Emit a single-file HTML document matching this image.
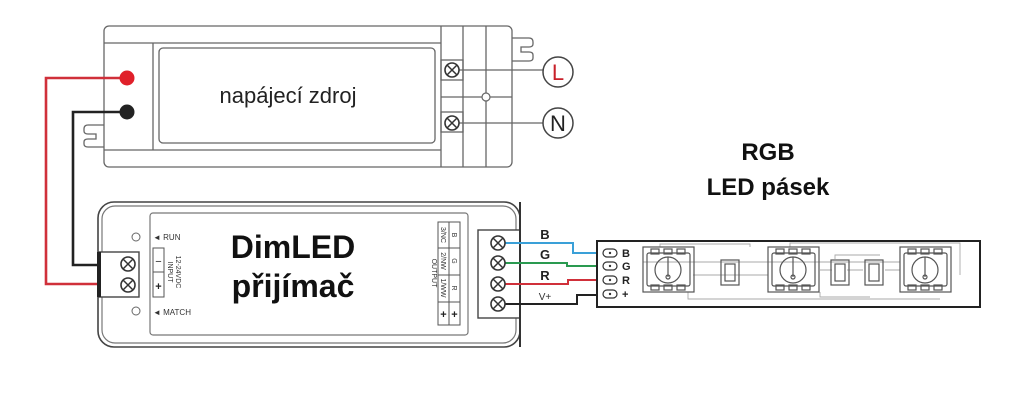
<!DOCTYPE html>
<html><head><meta charset="utf-8"><style>
html,body{margin:0;padding:0;background:#fff;width:1024px;height:406px;overflow:hidden}
svg{display:block}
text{font-family:"Liberation Sans",sans-serif}
</style></head><body>
<svg width="1024" height="406" viewBox="0 0 1024 406" xmlns="http://www.w3.org/2000/svg">
<defs>
<g id="scr"><circle r="7" fill="#fff" stroke="#333" stroke-width="1.6"/><path d="M-4.5,-4.5L4.5,4.5M4.5,-4.5L-4.5,4.5" stroke="#333" stroke-width="1.5"/></g>
<g id="led" fill="none" stroke="#555" stroke-width="1.2">
<rect x="0" y="0" width="51" height="45"/>
<rect x="4" y="6" width="43" height="33" rx="2"/>
<rect x="8" y="2" width="8" height="5"/><rect x="21" y="2" width="8" height="5"/><rect x="34" y="2" width="8" height="5"/>
<rect x="8" y="38" width="8" height="5"/><rect x="21" y="38" width="8" height="5"/><rect x="34" y="38" width="8" height="5"/>
<circle cx="25" cy="23" r="13"/><path d="M25,10V30"/><circle cx="25" cy="30" r="2"/>
</g>
<g id="res" fill="none" stroke="#555" stroke-width="1.2"><rect x="0" y="0" width="18" height="25"/><rect x="4" y="4" width="10" height="17"/></g>
</defs>

<!-- power supply -->
<g fill="none" stroke="#666" stroke-width="1.3">
<rect x="104" y="26" width="408" height="141" rx="5"/>
<path d="M104,43H441M104,150H441M153,43V150M441,26V167M463,26V167M486,26V167M441,97H512"/>
<rect x="159" y="48" width="276" height="95" rx="4"/>
<rect x="441" y="60" width="22" height="20"/><rect x="441" y="112" width="22" height="20"/>
<path d="M452,70H543M452,123H543"/>
<path d="M104,125H88q-4,0-4,4v2q0,3,4,3h8v5h-8q-4,0-4,3v2q0,3,4,3h16"/>
<path d="M512,38h17q4,0,4,4v2q0,3,-4,3h-8v5h8q4,0,4,3v3q0,3,-4,3h-17"/>
</g>
<circle cx="486" cy="97" r="4" fill="#fff" stroke="#666" stroke-width="1.2"/>
<use href="#scr" x="452" y="70"/><use href="#scr" x="452" y="123"/>
<circle cx="558" cy="72" r="15" fill="#fff" stroke="#444" stroke-width="1.5"/>
<text x="558" y="80" font-size="22" fill="#c8202a" text-anchor="middle">L</text>
<circle cx="558" cy="123" r="15" fill="#fff" stroke="#444" stroke-width="1.5"/>
<text x="558" y="131" font-size="22" fill="#222" text-anchor="middle">N</text>
<text x="288" y="103" font-size="22" fill="#222" text-anchor="middle">napájecí zdroj</text>

<!-- wires left -->
<path d="M127,78H46V284H128" fill="none" stroke="#d0303a" stroke-width="2.6"/>
<path d="M127,112H73V265H128" fill="none" stroke="#222" stroke-width="2.6"/>
<circle cx="127" cy="78" r="7.5" fill="#e0202a"/>
<circle cx="127" cy="112" r="7.5" fill="#222"/>

<!-- receiver -->
<rect x="98" y="202" width="422" height="145" rx="16" fill="#fff" stroke="#444" stroke-width="1.6"/>
<rect x="102" y="206" width="414" height="137" rx="13" fill="none" stroke="#777" stroke-width="1.2"/>
<rect x="150" y="213" width="318" height="122" rx="3" fill="none" stroke="#777" stroke-width="1.2"/>
<rect x="99" y="252" width="40" height="45" fill="#fff" stroke="#444" stroke-width="1.4"/>
<path d="M99,252V297" stroke="#222" stroke-width="4"/>
<use href="#scr" x="128" y="264"/><use href="#scr" x="128" y="285"/>
<circle cx="136" cy="237" r="4" fill="#fff" stroke="#666"/>
<circle cx="136" cy="311" r="4" fill="#fff" stroke="#666"/>
<text x="153" y="240" font-size="8" fill="#333">◄ RUN</text>
<text x="153" y="315" font-size="8" fill="#333">◄ MATCH</text>
<rect x="153" y="248" width="11" height="49" fill="none" stroke="#555"/>
<path d="M153,272H164" stroke="#555"/>
<text x="158.5" y="265" font-size="11" text-anchor="middle" fill="#222">−</text>
<text x="158.5" y="290" font-size="11" font-weight="bold" text-anchor="middle" fill="#222">+</text>
<text transform="translate(168,272) rotate(90)" font-size="7" text-anchor="middle" fill="#333">INPUT</text>
<text transform="translate(176,272) rotate(90)" font-size="7" text-anchor="middle" fill="#333">12-24VDC</text>
<text x="293" y="258" font-size="32" font-weight="bold" text-anchor="middle" fill="#111">DimLED</text>
<text x="293" y="297" font-size="32" font-weight="bold" text-anchor="middle" fill="#111">přijímač</text>
<g fill="none" stroke="#555" stroke-width="1">
<rect x="438" y="222" width="22" height="103"/>
<path d="M449,222V325M438,248H460M438,275H460M438,302H460"/>
</g>
<g font-size="7" fill="#333" text-anchor="middle">
<text transform="translate(432,273) rotate(90)">OUTPUT</text>
<text transform="translate(441,235) rotate(90)">3/NC</text>
<text transform="translate(452,235) rotate(90)">B</text>
<text transform="translate(441,261) rotate(90)">2/NW</text>
<text transform="translate(452,261) rotate(90)">G</text>
<text transform="translate(441,288) rotate(90)">1/WW</text>
<text transform="translate(452,288) rotate(90)">R</text>
</g>
<text x="443.5" y="318" font-size="11" font-weight="bold" text-anchor="middle" fill="#222">+</text>
<text x="454.5" y="318" font-size="11" font-weight="bold" text-anchor="middle" fill="#222">+</text>
<rect x="478" y="230" width="42" height="88" fill="#fff" stroke="#444" stroke-width="1.4"/>
<path d="M520,202V347" stroke="#333" stroke-width="2"/>

<!-- RGB wires -->
<path d="M498,243H573V253H608" fill="none" stroke="#3aa0d8" stroke-width="2"/>
<path d="M498,263H567V266H608" fill="none" stroke="#2a9a50" stroke-width="2"/>
<path d="M498,284H568V280H608" fill="none" stroke="#d0303a" stroke-width="2"/>
<path d="M498,304H577V295H608" fill="none" stroke="#222" stroke-width="2"/>
<use href="#scr" x="498" y="243"/><use href="#scr" x="498" y="263"/><use href="#scr" x="498" y="284"/><use href="#scr" x="498" y="304"/>
<g font-weight="bold" font-size="13" fill="#222" text-anchor="middle">
<text x="545" y="239">B</text><text x="545" y="259">G</text><text x="545" y="280">R</text>
</g>
<text x="545" y="300" font-size="10" fill="#333" text-anchor="middle">V+</text>

<!-- strip -->
<rect x="597" y="241" width="383" height="66" fill="#fff" stroke="#222" stroke-width="2"/>
<g fill="none" stroke="#aaa" stroke-width="0.9">
<path d="M643,262H900M693,275H768M820,270H832M847,270H863M885,270H900M660,247V244H750V247M790,247V243H960V275M688,292V299H940M820,292V297H870M835,259V255H880"/>
</g>
<g font-weight="bold" font-size="11" fill="#222">
<text x="622" y="257">B</text><text x="622" y="270">G</text><text x="622" y="284">R</text><text x="622" y="298">+</text>
</g>
<g fill="#fff" stroke="#333" stroke-width="1.2">
<rect x="603" y="249" width="14" height="8" rx="4"/><rect x="603" y="262" width="14" height="8" rx="4"/>
<rect x="603" y="276" width="14" height="8" rx="4"/><rect x="603" y="290" width="14" height="8" rx="4"/>
</g>
<g fill="#333"><circle cx="610" cy="253" r="1.2"/><circle cx="610" cy="266" r="1.2"/><circle cx="610" cy="280" r="1.2"/><circle cx="610" cy="294" r="1.2"/></g>
<use href="#led" x="643" y="247"/><use href="#led" x="768" y="247"/><use href="#led" x="900" y="247"/>
<use href="#res" x="721" y="260"/><use href="#res" x="831" y="260"/><use href="#res" x="865" y="260"/>

<text x="768" y="160" font-size="24" font-weight="bold" text-anchor="middle" fill="#111">RGB</text>
<text x="768" y="195" font-size="24" font-weight="bold" text-anchor="middle" fill="#111">LED pásek</text>
</svg>
</body></html>
